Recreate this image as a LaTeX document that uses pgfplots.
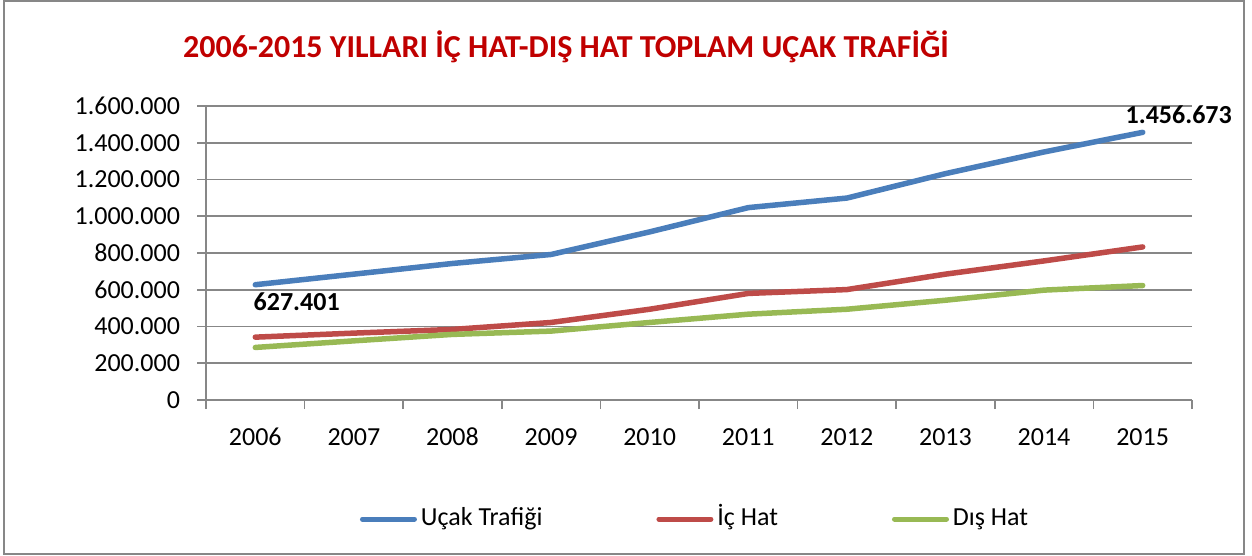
\documentclass[border=0pt]{standalone}
\usepackage{fontspec}
\setmainfont{Carlito}
\usepackage{pgfplots}
\pgfplotsset{compat=1.18}

\definecolor{ucak}{HTML}{4A7EBB}
\definecolor{ichat}{HTML}{BE4B48}
\definecolor{dishat}{HTML}{98B954}
\definecolor{baslik}{HTML}{C00000}
\definecolor{izgara}{HTML}{878787}

\begin{document}
\begin{tikzpicture}
  \useasboundingbox (-103pt,-78pt) rectangle (523pt,200pt);
  \draw[izgara, line width=0.8pt] (-101pt,-77pt) rectangle (519pt,199.5pt);

  \begin{axis}[
    name=ax,
    at={(0,0)}, anchor=south west,
    scale only axis,
    width=493pt, height=147pt,
    xmin=2005.5, xmax=2015.5,
    ymin=0, ymax=1600000,
    axis x line*=bottom,
    axis y line*=left,
    axis line style={izgara, line width=0.8pt},
    xtick={2006,...,2015},
    xticklabels={2006,2007,2008,2009,2010,2011,2012,2013,2014,2015},
    major x tick style={draw=none},
    minor xtick={2005.5,2006.5,...,2015.5},
    minor x tick style={izgara, line width=0.8pt},
    minor tick length=4.5pt,
    ytick={0,200000,...,1600000},
    yticklabels={0,200.000,400.000,600.000,800.000,1.000.000,1.200.000,1.400.000,1.600.000},
    scaled y ticks=false,
    major y tick style={izgara, line width=0.8pt},
    major tick length=4.5pt,
    tick align=outside,
    ymajorgrids,
    grid style={izgara, line width=0.8pt},
    tick label style={font=\fontsize{13}{15}\selectfont},
    xticklabel style={yshift=-5pt, text height=9.5pt, text depth=2pt},
    yticklabel style={xshift=-5pt},
    legend columns=3,
    legend style={
      at={(0.497,-0.405)}, anchor=center,
      draw=none, fill=none,
      font=\fontsize{13}{15}\selectfont,
      nodes={text height=9.5pt, text depth=3pt},
      /tikz/every even column/.append style={column sep=55pt},
    },
    legend image code/.code={
      \draw[#1, line width=2.5pt, line cap=round] (0pt,0pt) -- (26pt,0pt);
    },
    every axis plot/.append style={line width=2.75pt, line cap=round, line join=round},
    clip=false,
  ]
    \addplot[ucak] coordinates {
      (2006,627401) (2007,685000) (2008,743000) (2009,792000) (2010,915000)
      (2011,1047000) (2012,1099000) (2013,1232000) (2014,1350000) (2015,1456673)
    };
    \addlegendentry{Uçak Trafiği}

    \addplot[ichat] coordinates {
      (2006,342000) (2007,364000) (2008,384000) (2009,422000) (2010,494000)
      (2011,580000) (2012,601000) (2013,685000) (2014,757000) (2015,833000)
    };
    \addlegendentry{İç Hat}

    \addplot[dishat] coordinates {
      (2006,286000) (2007,322000) (2008,357000) (2009,375000) (2010,422000)
      (2011,467000) (2012,494000) (2013,543000) (2014,598000) (2015,623000)
    };
    \addlegendentry{Dış Hat}

    \node[anchor=north west, font=\fontsize{13}{15}\selectfont\bfseries, inner sep=0pt]
      at (axis cs:2006,627401) [yshift=-4pt, xshift=-1pt] {627.401};
    \node[anchor=south, font=\fontsize{13}{15}\selectfont\bfseries, inner sep=0pt]
      at (axis cs:2015,1456673) [yshift=4pt, xshift=18pt] {1.456.673};
  \end{axis}

  \node[font=\fontsize{16}{19}\selectfont\bfseries, text=baslik, inner sep=0pt]
    at (180pt,176.5pt) {2006-2015 YILLARI İÇ HAT-DIŞ HAT TOPLAM UÇAK TRAFİĞİ};
\end{tikzpicture}
\end{document}
